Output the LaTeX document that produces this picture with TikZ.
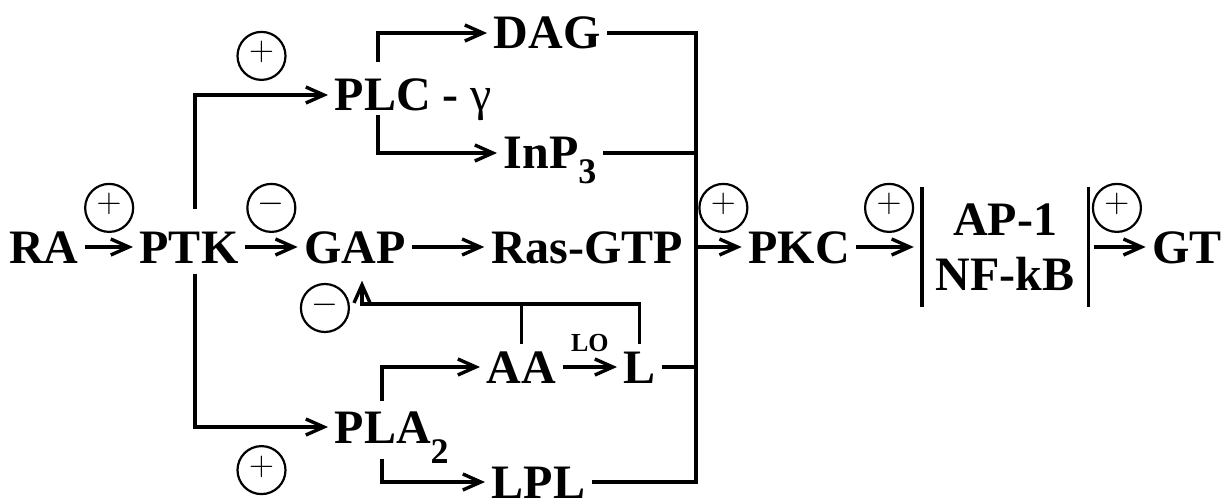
\documentclass[tikz,border=0pt]{standalone}
\usepackage{fontspec}
\setmainfont{Liberation Serif}
\usetikzlibrary{arrows.meta}
\newcommand{\lowsub}[2][-7.5pt]{\raisebox{#1}{\fontsize{18}{18}\selectfont #2}}

\begin{document}
\begin{tikzpicture}[x=0.5pt,y=-0.5pt,line width=1.7pt,
    >={Straight Barb[length=9pt,width=8pt]},
    every node/.style={font=\fontsize{24}{27.5}\selectfont\bfseries,inner sep=2.5pt,text height=16pt,text depth=0pt},
    sgn/.style={draw,circle,line width=1.1pt,minimum size=24pt,inner sep=0pt,
        font=\fontsize{18}{18}\selectfont,text height=6pt,text depth=1pt}]
    \useasboundingbox (0,0) rectangle (1229,502);
    % main row
    \node (RA) at (44,247) {RA};
    \node (PTK) at (189,247) {PTK};
    \node (GAP) at (355,247) {GAP};
    \node (Ras) at (587,247) {Ras-GTP};
    \node (PKC) at (799,247) {PKC};
    \node[minimum width=81.5pt,minimum height=58pt,inner sep=0pt,align=center,text height=,text depth=] (TF) at (1005,247) {AP-1\\NF-kB};
    \node (GT) at (1187,247) {GT};
    % branches
    \node[anchor=west] (PLC) at (328,95) {PLC - {\mdseries γ}};
    \node[anchor=west] (DAG) at (487,33) {DAG};
    \node[anchor=west] (InP) at (497,153) {InP\lowsub{3}};
    \node[anchor=west] (PLA) at (328,427) {PLA\lowsub[-10pt]{2}};
    \node[anchor=west] (AA) at (480,367) {AA};
    \node[anchor=west] (L) at (617,367) {L};
    \node[anchor=west] (LPL) at (485,482) {LPL};
    \coordinate (bus) at (696,0);
    \coordinate (ptkU) at (195,209);
    \coordinate (ptkD) at (195,274);
    \coordinate (plcU) at (378,62);
    \coordinate (plcD) at (378,115);
    \coordinate (plaU) at (382,401);
    \coordinate (plaD) at (382,459);
    \coordinate (fb) at (362,304);

    \draw[->] (RA) -- node[sgn,above=7pt] (s1) {$+$} (PTK);
    \draw[->] (PTK) -- node[sgn,above=7pt] (s2) {$-$} (GAP);
    \draw[->] (GAP) -- (Ras);
    \draw[->] (ptkU) |- node[sgn,pos=0.75,above=7pt] (s3) {$+$} (PLC);
    \draw[->] (ptkD) |- node[sgn,pos=0.75,below=9pt] (s4) {$+$} (PLA);
    \draw[->] (plcU) |- (DAG);
    \draw[->] (plcD) |- (InP);
    \draw[->] (plaU) |- (AA);
    \draw[->] (plaD) |- (LPL);
    \draw[->] (AA) -- node[midway,above=5pt,inner sep=2pt,font=\fontsize{13}{13}\selectfont\bfseries] (lo) {LO} (L);
    % feedback to GAP
    \draw[->,shorten >=5.5pt] (L.north) |- (fb) -- (fb |- GAP.south);
    \draw (AA.north) -- (AA.north |- fb);
    \node[sgn,left=6pt,yshift=-2pt] (s5) at (fb) {$-$};
    % collecting line
    \draw (DAG) -- (DAG -| bus) -- (LPL -| bus) -- (LPL);
    \draw (InP) -- (InP -| bus);
    \draw (L) -- (L -| bus);
    \draw[->] (PKC -| bus) -- node[sgn,pos=0.6,above=7pt] (s6) {$+$} (PKC);
    \draw[->,shorten >=4pt] (PKC) -- node[sgn,above=7pt] (s7) {$+$} (TF);
    \draw (TF.north west) -- (TF.south west);
    \draw (TF.north east) -- (TF.south east);
    \draw[->,shorten <=3pt] (TF) -- node[sgn,above=7pt] (s8) {$+$} (GT);
\end{tikzpicture}
\end{document}
